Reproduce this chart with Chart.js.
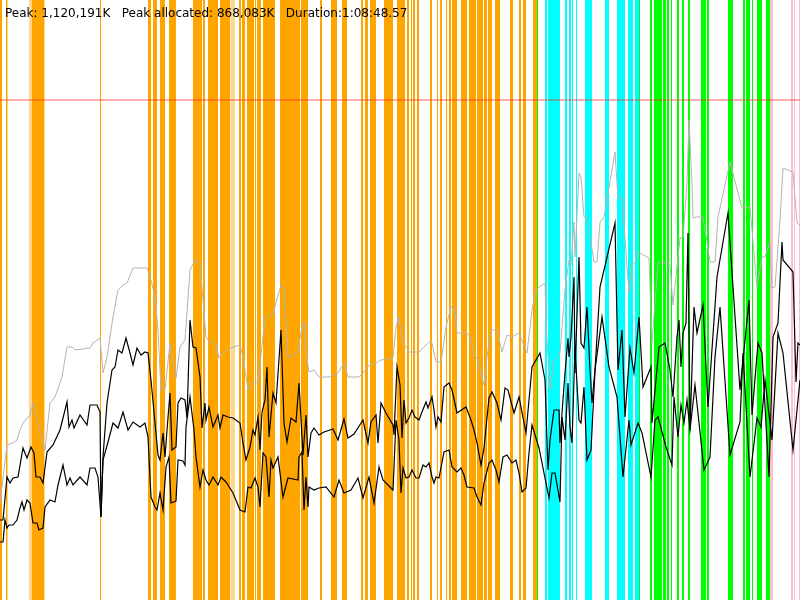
<!DOCTYPE html>
<html>
<head>
<meta charset="utf-8">
<script src="https://cdn.jsdelivr.net/npm/chart.js@4/dist/chart.umd.min.js"></script>
<style>
    html, body { margin: 0; padding: 0; background: #fff; }
    #chart { display: block; }
</style>
</head>
<body>
<canvas id="chart" width="800" height="600"></canvas>
<script>
/* x = elapsed time in samples (0..800), y = heap level (1 unit ~ 2.24 MB) */

var titleText = "Peak: 1,120,191K   Peak allocated: 868,083K   Duration:1:08:48.57";
var peakLevel = 500;

/* gc events, [start, end] in samples */
var youngEvents = [[0,2],[6,7.5],[32,44],[100,101],[148,151],[153,157],[160,165],[169,176],[193,202],[203,205],
    [208,218],[220,230],[239,241],[242,245],[247,254],[255,256],[257,261],[263,275],[280,300],[301,308],
    [320,322],[331,337],[342,347],[361,363],[365,368],[370,376],[384,387],[387,393],[397,405],[407,409],
    [411,412],[413,415],[417,419],[430,432],[437,438],[440,442],[446,447],[449,451],[452,457],[461,467],
    [469,476],[477,483],[484,487],[488,492],[495,500],[510,513],[519,521],[523,526],[533,537]];
var youngLightEvents = [[230.5,235],[29,32],[44,45]];
var fullEvents = [[545,547],[548,560],[565,567],[569,571],[572,573],[576,577],[585,592],[605,609],
    [617,625],[628,633],[635,639]];
var concurrentEvents = [[537,538],[639,640],[650,652],[654,662],[663,666],[667,669],[671,672],[677,679],
    [682,684],[688,690],[701,706],[707,709],[728,733],[743,745],[746,750],[752,753],[757,762],[766,770]];
var remarkEvents = [[770,773],[791,793],[794,795],[799,800]];

/* heap committed */
var committed = [[0,97],[7,155],[13,157],[17,160],[20,170],[23,177],[30,185],[33,197],[45,150],[50,197],
    [55,203],[62,223],[67,253],[72,253],[75,250],[90,252],[93,257],[100,262],[103,227],[107,243],[113,283],
    [118,310],[123,315],[127,317],[133,332],[147,332],[151,320],[155,303],[158,270],[161,210],[165,210],
    [170,257],[173,237],[176,222],[180,253],[185,260],[190,330],[195,340],[200,338],[203,300],[206,263],
    [210,258],[216,255],[219,242],[221,245],[230,252],[240,255],[243,243],[248,210],[253,218],[258,218],
    [265,282],[273,287],[281,315],[284,312],[288,242],[298,248],[299,257],[303,277],[305,277],[306,247],
    [309,228],[314,230],[319,223],[329,223],[338,227],[344,237],[348,223],[359,223],[363,227],[369,235],
    [376,237],[381,240],[393,242],[396,273],[399,283],[402,260],[409,248],[419,248],[429,258],[432,257],
    [436,238],[441,238],[446,273],[451,293],[454,293],[457,267],[467,267],[471,262],[474,243],[477,242],
    [484,215],[487,243],[491,270],[497,270],[502,248],[507,265],[512,263],[519,267],[527,247],[532,290],
    [535,307],[539,313],[545,317],[546,277],[550,210],[554,240],[560,247],[565,310],[569,340],[571,335],
    [574,378],[575,343],[579,427],[581,423],[584,383],[587,383],[594,338],[597,338],[600,378],[604,383],
    [615,448],[618,402],[622,402],[629,307],[632,337],[635,337],[638,348],[649,342],[652,257],[658,338],
    [666,337],[670,335],[673,295],[680,362],[683,363],[687,417],[689,480],[692,417],[693,382],[697,383],
    [703,383],[710,338],[715,338],[718,383],[730,438],[742,392],[750,393],[757,313],[762,343],[765,343],
    [770,358],[772,312],[775,313],[780,380],[783,432],[793,428],[797,377],[800,375]];

/* heap allocated before collection */
var allocated = [[0,80],[3,80],[7,123],[10,117],[13,122],[18,123],[23,152],[27,142],[31,153],[34,147],
    [36,123],[40,123],[43,117],[47,148],[53,155],[60,170],[67,198],[69,173],[72,180],[74,172],[80,185],
    [87,175],[90,195],[97,195],[100,188],[101,83],[103,143],[107,197],[112,230],[115,233],[118,250],
    [122,247],[126,262],[130,247],[133,235],[137,252],[141,245],[145,248],[148,247],[151,220],[155,177],
    [158,145],[160,140],[163,167],[165,143],[167,170],[170,207],[172,150],[176,153],[178,197],[181,202],
    [185,200],[187,182],[190,280],[193,253],[196,252],[200,223],[202,172],[205,197],[206,180],[209,193],
    [213,173],[218,185],[220,172],[223,185],[228,183],[233,182],[240,177],[243,157],[246,140],[250,153],
    [253,170],[255,165],[258,183],[260,150],[262,188],[265,200],[267,233],[269,163],[273,207],[276,197],
    [281,270],[284,177],[287,158],[291,182],[296,178],[299,217],[303,145],[306,185],[308,143],[311,167],
    [314,172],[319,165],[324,168],[333,171],[338,160],[344,181],[348,162],[354,166],[363,180],[368,157],
    [371,178],[376,185],[378,157],[381,197],[386,187],[393,175],[394,165],[397,233],[400,215],[402,162],
    [404,200],[406,177],[409,182],[412,190],[415,183],[419,180],[422,188],[426,198],[428,192],[432,203],
    [434,190],[436,173],[438,183],[441,178],[444,213],[449,217],[452,210],[457,187],[466,193],[471,180],
    [474,170],[477,157],[481,135],[484,152],[489,202],[492,208],[497,197],[501,180],[505,212],[508,210],
    [514,187],[519,203],[526,167],[532,233],[540,247],[545,220],[548,130],[550,160],[554,190],[559,190],
    [560,157],[562,187],[565,227],[568,262],[569,243],[571,263],[574,323],[575,227],[579,343],[581,257],
    [584,252],[587,293],[590,230],[592,197],[595,230],[600,313],[615,377],[618,230],[622,270],[625,183],
    [630,252],[634,227],[639,283],[643,213],[651,233],[652,177],[659,253],[665,257],[670,230],[673,203],
    [677,263],[679,280],[681,233],[683,267],[686,277],[688,367],[690,170],[694,293],[697,267],[703,295],
    [708,193],[717,323],[728,387],[740,210],[749,300],[752,185],[758,257],[762,247],[769,123],[773,263],
    [778,277],[782,358],[783,340],[793,328],[796,218],[798,257],[800,255]];

/* heap live after collection */
var live = [[0,58],[3,58],[5,80],[7,72],[9,75],[13,75],[17,80],[20,92],[22,98],[24,90],[27,100],[30,97],
    [33,77],[37,77],[39,70],[43,72],[45,93],[50,100],[55,98],[58,115],[63,135],[67,115],[70,122],[73,115],
    [80,123],[87,115],[90,132],[95,132],[98,123],[101,83],[103,140],[108,158],[113,177],[118,172],[123,188],
    [128,170],[133,178],[140,173],[145,177],[148,163],[151,103],[155,93],[157,90],[160,107],[163,90],
    [166,133],[169,143],[171,97],[176,99],[178,140],[183,139],[185,135],[186,173],[190,203],[194,170],
    [196,143],[200,113],[203,130],[206,120],[209,115],[213,123],[218,115],[221,123],[226,118],[233,107],
    [240,90],[245,88],[248,113],[251,112],[255,122],[258,113],[260,93],[263,147],[266,143],[269,103],
    [271,140],[273,132],[278,143],[283,103],[288,122],[298,120],[299,143],[302,148],[304,90],[306,123],
    [308,93],[309,113],[314,110],[319,112],[326,113],[334,103],[339,120],[344,107],[351,110],[358,122],
    [363,102],[369,123],[374,97],[379,133],[383,120],[393,110],[396,180],[399,160],[401,107],[403,132],
    [406,122],[409,123],[412,130],[416,122],[419,122],[423,135],[426,133],[429,137],[432,123],[434,117],
    [436,123],[439,122],[444,148],[449,150],[452,133],[457,128],[461,132],[464,125],[467,113],[474,112],
    [477,103],[481,95],[484,117],[489,137],[492,140],[496,130],[499,118],[503,143],[507,145],[512,137],
    [516,140],[519,127],[522,108],[526,112],[529,147],[532,175],[539,152],[549,102],[552,127],[555,127],
    [560,98],[562,183],[565,160],[568,217],[570,173],[572,157],[575,253],[579,180],[581,177],[584,213],
    [587,140],[591,150],[595,230],[602,283],[609,233],[617,203],[623,123],[629,180],[631,155],[638,177],
    [642,167],[651,123],[655,180],[658,183],[666,153],[672,135],[674,203],[678,163],[681,195],[684,177],
    [687,200],[690,170],[695,215],[704,130],[710,143],[715,243],[720,293],[730,145],[740,178],[743,247],
    [750,123],[757,182],[761,173],[765,220],[772,160],[778,267],[783,247],[793,150],[800,220]];

/* turn [x, y] pairs into chart points */
var toPoints = function (pairs) {
    return pairs.map(function (p) { return {x: p[0], y: p[1]}; });
};

/* paints the gc event stripes behind the lines */
var eventStripes = {
    id: "eventStripes",
    beforeDatasetsDraw: function (chart) {
        var ctx = chart.ctx;
        var area = chart.chartArea;
        var xs = chart.scales.x;
        var groups = [
            [youngLightEvents, "rgba(255,165,0,0.45)"],
            [youngEvents, "#ffa500"],
            [fullEvents, "#00ffff"],
            [concurrentEvents, "#00ff00"],
            [remarkEvents, "#ffc0cb"]
        ];
        ctx.save();
        groups.forEach(function (g) {
            ctx.fillStyle = g[1];
            g[0].forEach(function (ev) {
                var x0 = xs.getPixelForValue(ev[0]);
                var x1 = xs.getPixelForValue(ev[1]);
                ctx.fillRect(x0, area.top, Math.max(1, x1 - x0), area.bottom - area.top);
            });
        });
        ctx.restore();
    }
};

/* summary text in the top left corner */
var summary = {
    id: "summary",
    afterDatasetsDraw: function (chart) {
        var ctx = chart.ctx;
        ctx.save();
        ctx.font = "12px 'DejaVu Sans'";
        ctx.fillStyle = "#000";
        ctx.textBaseline = "alphabetic";
        ctx.fillText(titleText, 5, 17);
        ctx.restore();
    }
};

var lineStyle = function (color, width) {
    return {
        borderColor: color,
        borderWidth: width,
        pointRadius: 0,
        tension: 0,
        fill: false
    };
};

new Chart(document.getElementById("chart"), {
    type: "line",
    data: {
        datasets: [
            Object.assign({label: "committed", data: toPoints(committed)}, lineStyle("#b4b4b4", 1)),
            Object.assign({label: "allocated", data: toPoints(allocated)}, lineStyle("#000", 1.2)),
            Object.assign({label: "live", data: toPoints(live)}, lineStyle("#000", 1.2)),
            Object.assign({label: "peak", data: toPoints([[0, peakLevel], [800, peakLevel]])}, lineStyle("rgba(255,40,40,0.75)", 1))
        ]
    },
    options: {
        responsive: false,
        devicePixelRatio: 1,
        animation: false,
        layout: {padding: 0},
        plugins: {
            legend: {display: false},
            title: {display: false},
            tooltip: {enabled: false}
        },
        scales: {
            x: {type: "linear", min: 0, max: 800, display: false},
            y: {type: "linear", min: 0, max: 600, display: false}
        }
    },
    plugins: [eventStripes, summary]
});
</script>
</body>
</html>
